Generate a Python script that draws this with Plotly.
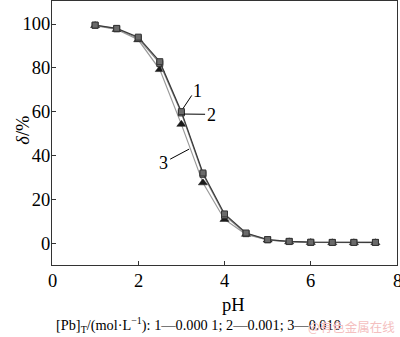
import plotly.graph_objects as go

ph = [1, 1.5, 2, 2.5, 3, 3.5, 4, 4.5, 5, 5.5, 6, 6.5, 7, 7.5]
s1 = [99.5, 98.0, 94.0, 82.8, 60.0, 32.0, 13.3, 4.6, 1.6, 0.8, 0.4, 0.3, 0.3, 0.3]
s2 = [99.4, 97.8, 93.4, 82.0, 59.4, 31.4, 12.6, 4.3, 1.5, 0.7, 0.3, 0.3, 0.3, 0.3]
s3 = [99.3, 97.5, 92.8, 79.2, 54.2, 27.5, 10.8, 4.0, 1.4, 0.6, 0.3, 0.2, 0.2, 0.2]
labels = ["1", "2", "3"]
xticks = [0, 2, 4, 6, 8]
caption = "[Pb]<sub>T</sub>/(mol·L<sup>−1</sup>): 1—0.000 1; 2—0.001; 3—0.010"

FONT = "Liberation Serif, Times New Roman, serif"
fig = go.Figure()
fig.add_trace(go.Scatter(x=ph, y=s3, mode="lines+markers",
                         line=dict(color="#9a9a9a", width=1.2),
                         marker=dict(symbol="triangle-up", size=8, color="#1a1a1a",
                                     line=dict(color="#1a1a1a", width=0.5))))
fig.add_trace(go.Scatter(x=ph, y=s2, mode="lines+markers",
                         line=dict(color="#8a8a8a", width=1.2),
                         marker=dict(symbol="square", size=6, color="#808080",
                                     line=dict(color="#333", width=1))))
fig.add_trace(go.Scatter(x=ph, y=s1, mode="lines+markers",
                         line=dict(color="#3a3a3a", width=1.2),
                         marker=dict(symbol="square", size=6, color="#6a6a6a",
                                     line=dict(color="#333", width=1))))

# label leader lines
lines = [((3.24, 67.4), (3.04, 61.5)), ((3.06, 58.9), (3.55, 58.8)), ((2.74, 38.3), (3.18, 42.9))]
txtpos = [(3.37, 69.5), (3.71, 58.3), (2.58, 36.5)]
for (a, b), (tx, ty), lab in zip(lines, txtpos, labels):
    fig.add_shape(type="line", x0=a[0], y0=a[1], x1=b[0], y1=b[1],
                  line=dict(color="black", width=1))
    fig.add_annotation(x=tx, y=ty, text=lab, showarrow=False,
                       font=dict(family=FONT, size=18, color="black"))

# x tick labels as annotations (last one sits on the figure edge)
for t in xticks:
    fig.add_annotation(x=t, xref="x", yref="paper", y=0, yshift=-4, text=str(t),
                       showarrow=False, xanchor="center", yanchor="top",
                       font=dict(family=FONT, size=18.5, color="black"))

fig.add_annotation(xref="paper", yref="paper", x=0.525, y=-0.152, text="pH",
                   showarrow=False, font=dict(family=FONT, size=18.5, color="black"),
                   xanchor="center", yanchor="middle")
fig.add_annotation(xref="paper", yref="paper", x=-0.118, y=0.51,
                   text="<i>δ</i>/%", textangle=-90, showarrow=False,
                   font=dict(family=FONT, size=18.5, color="black"))
fig.add_annotation(xref="paper", yref="paper", x=0.425, y=-0.227,
                   text=caption, showarrow=False,
                   font=dict(family=FONT, size=14.3, color="black"),
                   xanchor="center", yanchor="middle")
fig.add_annotation(xref="paper", yref="paper", x=1.0, y=-0.232,
                   text="@有色金属在线", showarrow=False,
                   font=dict(family="Noto Sans CJK SC", size=12.5, color="#f4c0c0"),
                   xanchor="right", yanchor="middle")

fig.update_xaxes(range=[0, 8], tickvals=xticks, showticklabels=False, ticks="inside", ticklen=4,
                 tickcolor="#333", linecolor="#333", linewidth=1, mirror=True,
                 showline=True, showgrid=False, zeroline=False)
fig.update_yaxes(range=[-10, 110.5], tickvals=[0, 20, 40, 60, 80, 100], ticks="inside",
                 ticklen=4, tickcolor="#333", linecolor="#333", linewidth=1,
                 mirror=True, showline=True, showgrid=False, zeroline=False,
                 ticklabelstandoff=-3,
                 tickfont=dict(family=FONT, size=18.5, color="black"))
fig.update_layout(width=400, height=337, margin=dict(l=52, r=3, t=1, b=72),
                  plot_bgcolor="white", paper_bgcolor="white", showlegend=False)
fig.write_html("out.html")
